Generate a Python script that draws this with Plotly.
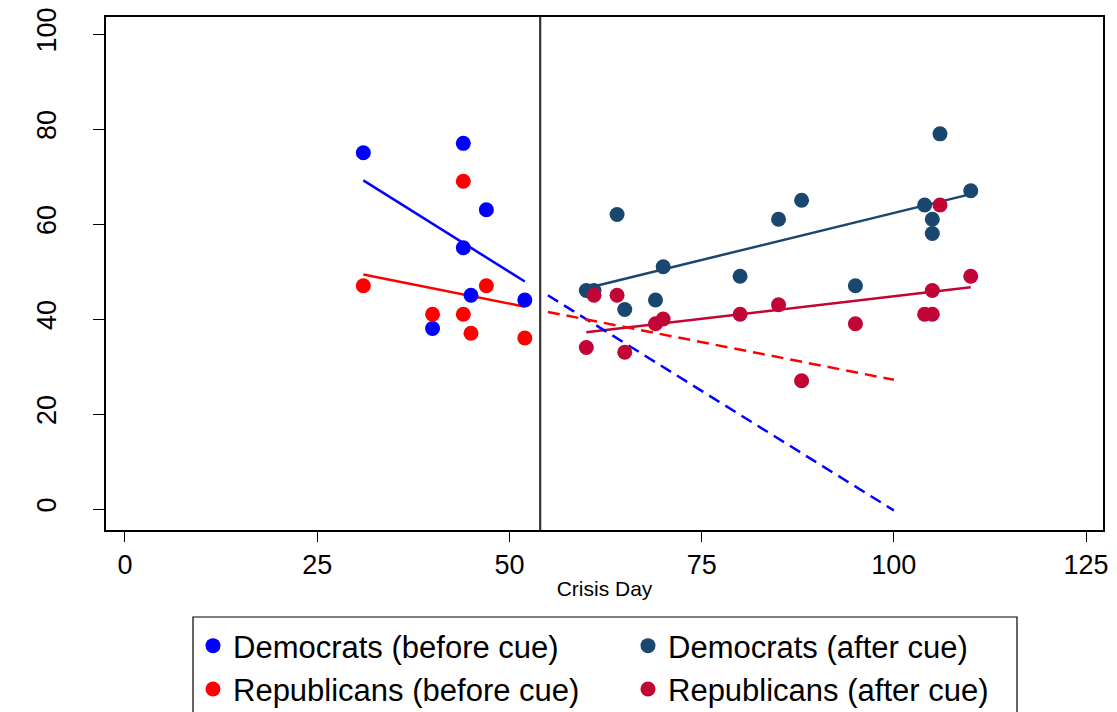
import plotly.graph_objects as go

# ---- data ----
dem_before_x = [31, 44, 47, 44, 45, 52, 40]
dem_before_y = [75, 77, 63, 55, 45, 44, 38]

rep_before_x = [44, 31, 47, 40, 44, 45, 52]
rep_before_y = [69, 47, 47, 41, 41, 37, 36]

dem_after_x = [60, 61, 64, 65, 69, 70, 80, 85, 88, 95, 104, 105, 105, 106, 110]
dem_after_y = [46, 46, 62, 42, 44, 51, 49, 61, 65, 47, 64, 61, 58, 79, 67]

rep_after_x = [60, 61, 64, 65, 69, 70, 80, 85, 88, 95, 104, 105, 105, 106, 110]
rep_after_y = [34, 45, 45, 33, 39, 40, 41, 43, 27, 39, 41, 41, 46, 64, 49]

# fitted lines (endpoints)
dem_before_fit_x = [31, 52]
dem_before_fit_y = [69.2, 47.9]
rep_before_fit_x = [31, 52]
rep_before_fit_y = [49.4, 42.6]
dem_after_fit_x = [60, 110]
dem_after_fit_y = [46.5, 66.3]
rep_after_fit_x = [60, 110]
rep_after_fit_y = [37.2, 46.7]

# projections of the before-cue fits
dem_proj_x = [55, 100]
dem_proj_y = [45.0, -0.3]
rep_proj_x = [55, 100]
rep_proj_y = [41.5, 27.2]

cue_day = 54

x_ticks = [0, 25, 50, 75, 100, 125]
y_ticks = [0, 20, 40, 60, 80, 100]

# ---- styles ----
C_DEM_B = "#0000FF"
C_REP_B = "#FF0000"
C_DEM_A = "#1A476F"
C_REP_A = "#C10534"
FONT = "Liberation Sans, Arial, sans-serif"
MS = 15
W, H = 1117, 712
ML, MR, MT, MB = 106, 14, 17, 182
PW, PH = W - ML - MR, H - MT - MB

fig = go.Figure()

def pts(x, y, c, name, leg):
    fig.add_trace(go.Scatter(x=x, y=y, mode="markers", name=name, legend=leg,
                             marker=dict(color=c, size=MS, line=dict(width=0))))

def line(x, y, c, dash="solid"):
    fig.add_trace(go.Scatter(x=x, y=y, mode="lines", showlegend=False,
                             line=dict(color=c, width=2.5, dash=dash),
                             hoverinfo="skip"))

# fit lines first so dots sit on top
line(dem_before_fit_x, dem_before_fit_y, C_DEM_B)
line(rep_before_fit_x, rep_before_fit_y, C_REP_B)
line(dem_after_fit_x, dem_after_fit_y, C_DEM_A)
line(rep_after_fit_x, rep_after_fit_y, C_REP_A)
line(dem_proj_x, dem_proj_y, C_DEM_B, dash="12px,7px")
line(rep_proj_x, rep_proj_y, C_REP_B, dash="12px,7px")

pts(dem_before_x, dem_before_y, C_DEM_B, "Democrats (before cue)", "legend")
pts(rep_before_x, rep_before_y, C_REP_B, "Republicans (before cue)", "legend")
pts(dem_after_x, dem_after_y, C_DEM_A, "Democrats (after cue)", "legend2")
pts(rep_after_x, rep_after_y, C_REP_A, "Republicans (after cue)", "legend2")

fig.add_vline(x=cue_day, line=dict(color="#333333", width=2.2))

# legend frame (box, bottom runs off the page as in the reference)
def px_to_paper_x(px):
    return (px - ML) / PW

def py_to_paper_y(py):
    return (H - MB - py) / PH

fig.add_shape(type="rect", xref="paper", yref="paper",
              x0=px_to_paper_x(193), x1=px_to_paper_x(1017),
              y0=py_to_paper_y(617), y1=py_to_paper_y(730),
              line=dict(color="black", width=1.2), fillcolor="rgba(0,0,0,0)",
              layer="above")

leg_common = dict(
    orientation="v", xref="container", yref="container",
    xanchor="left", yanchor="top",
    font=dict(size=31, family=FONT, color="black"),
    borderwidth=0, bgcolor="rgba(0,0,0,0)", itemwidth=30,
)
fig.update_layout(
    width=W, height=H,
    margin=dict(l=ML, r=MR, t=MT, b=MB, autoexpand=False),
    paper_bgcolor="white", plot_bgcolor="white",
    font=dict(family=FONT, color="black"),
    showlegend=True,
    legend=dict(x=193 / W, y=1 - 619 / H, **leg_common),
    legend2=dict(x=628 / W, y=1 - 619 / H, **leg_common),
)

fig.update_xaxes(
    range=[-2.47, 127.2], tickvals=x_ticks, ticks="outside", ticklen=10,
    tickwidth=1.2, tickcolor="black", showgrid=False, zeroline=False,
    showline=True, linecolor="black", linewidth=1.5, mirror=True,
    tickfont=dict(size=27, family=FONT), automargin=False,
    title=dict(text="Crisis Day", font=dict(size=21, family=FONT), standoff=2),
)
fig.update_yaxes(
    range=[-4.42, 103.6], tickvals=y_ticks, ticks="outside", ticklen=11,
    tickwidth=1.2, tickcolor="black", showgrid=False, zeroline=False,
    showline=True, linecolor="black", linewidth=1.5, mirror=True,
    tickfont=dict(size=27, family=FONT), tickangle=-90, automargin=False,
    ticklabelstandoff=26,
)

fig.write_html("out.html", config={"displayModeBar": False},
               post_script="document.body.style.margin='0';")
